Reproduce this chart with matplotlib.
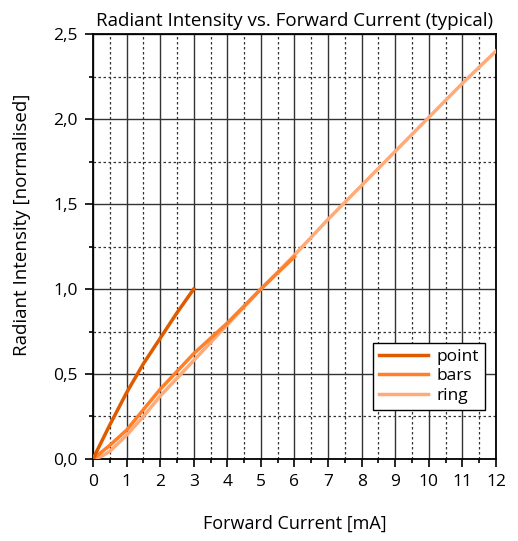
import matplotlib.pyplot as plt
from matplotlib.ticker import MultipleLocator, FuncFormatter

plt.rcParams['font.family'] = ['Open Sans', 'DejaVu Sans']

# curves
point_x = [0, 0.5, 1, 1.5, 2, 2.5, 3]
point_y = [0, 0.20, 0.39, 0.56, 0.71, 0.86, 1.0]

bars_x = [0, 0.5, 1, 1.5, 2, 3, 4, 5, 6]
bars_y = [0, 0.08, 0.17, 0.29, 0.41, 0.62, 0.80, 1.0, 1.19]

ring_x = [0, 0.25, 0.5, 1, 1.5, 2, 3, 4, 5, 6, 7, 8, 9, 10, 11, 12]
ring_y = [0, 0.015, 0.045, 0.14, 0.25, 0.37, 0.58, 0.79, 1.0, 1.2, 1.41, 1.61, 1.81, 2.01, 2.21, 2.40]

fig = plt.figure(figsize=(5.18, 5.41), dpi=100)
ax = fig.add_axes([0.1795, 0.1516, 0.778, 0.7854])

ax.plot(point_x, point_y, color='#e05a00', lw=2.5, label='point', zorder=5)
ax.plot(bars_x, bars_y, color='#ff7f2a', lw=2.5, label='bars', zorder=4)
ax.plot(ring_x, ring_y, color='#ffaa77', lw=2.5, label='ring', zorder=3)

ax.set_xlim(0, 12)
ax.set_ylim(0, 2.5)
ax.xaxis.set_major_locator(MultipleLocator(1))
ax.xaxis.set_minor_locator(MultipleLocator(0.5))
ax.yaxis.set_major_locator(MultipleLocator(0.5))
ax.yaxis.set_minor_locator(MultipleLocator(0.25))
ax.yaxis.set_major_formatter(FuncFormatter(lambda v, p: f'{v:.1f}'.replace('.', ',')))

ax.grid(which='major', color='#333333', lw=1.0, ls='-')
ax.grid(which='minor', color='#333333', lw=0.9, ls=(0, (2, 2)))
ax.set_axisbelow(True)

ax.tick_params(which='major', direction='out', length=6, width=1.2, labelsize=12.5,
               color='black', pad=5)
ax.tick_params(which='minor', direction='out', length=3, width=1.2, color='black')
for s in ax.spines.values():
    s.set_linewidth(1.3)
    s.set_color('black')

ax.set_title('Radiant Intensity vs. Forward Current (typical)', fontsize=13.5, pad=6)
ax.set_xlabel('Forward Current [mA]', fontsize=13, labelpad=18)
ax.set_ylabel('Radiant Intensity [normalised]', fontsize=13.5)
ax.yaxis.set_label_coords(-0.155, 0.55)

leg = ax.legend(loc='lower right', bbox_to_anchor=(0.973, 0.115), fancybox=False,
                edgecolor='black', framealpha=1, fontsize=12.5, handlelength=2.8,
                borderpad=0.35, labelspacing=0.2, handletextpad=0.5, borderaxespad=0)
leg.get_frame().set_linewidth(1.0)

plt.savefig('out.png', dpi=100)
